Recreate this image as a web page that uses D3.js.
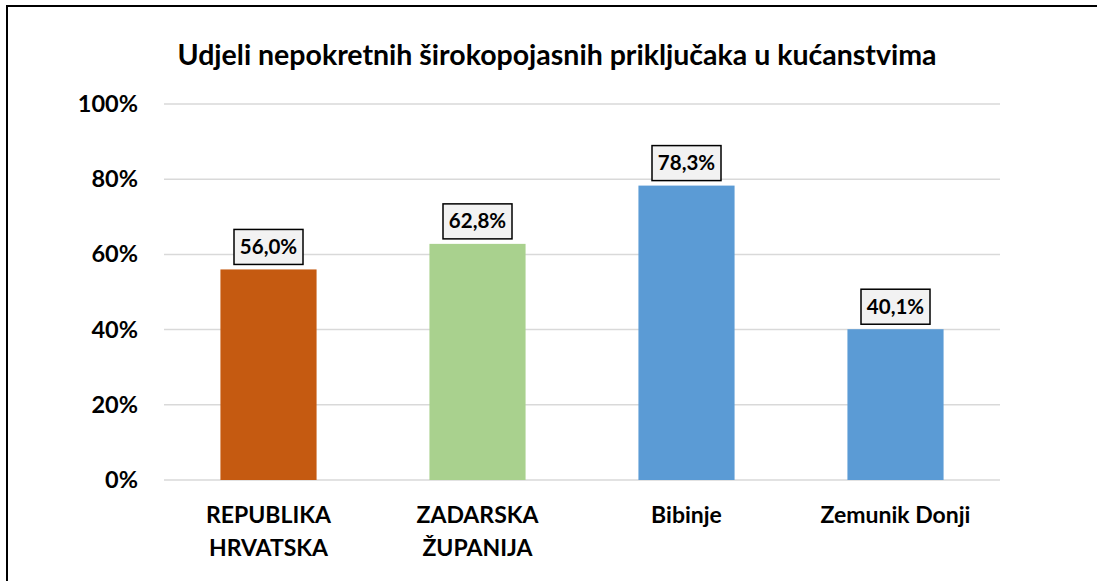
<!DOCTYPE html>
<html><head><meta charset="utf-8">
<script src="https://cdn.jsdelivr.net/npm/d3@7"></script>
<style>body{margin:0;background:#fff;} text{font-family:Lato,"Open Sans",sans-serif;font-weight:bold;}</style>
</head><body>
<svg id="c" width="1097" height="581"></svg>
<script>
const title = "Udjeli nepokretnih širokopojasnih priključaka u kućanstvima";
const categories = [["REPUBLIKA","HRVATSKA"],["ZADARSKA","ŽUPANIJA"],["Bibinje"],["Zemunik Donji"]];
const values = [56.0, 62.8, 78.3, 40.1];
const colors = ["#C55A11", "#A9D18E", "#5B9BD5", "#5B9BD5"];
const yTicks = [0, 20, 40, 60, 80, 100];

const svg = d3.select("#c");
svg.append("rect").attr("x",7).attr("y",6).attr("width",1200).attr("height",700)
  .attr("fill","#fff").attr("stroke","#000").attr("stroke-width",2);

const pL=164, pR=1000, pT=104, pB=480;
const x = d3.scaleBand().domain(d3.range(values.length)).range([pL,pR]).paddingInner(0.54).paddingOuter(0.27);
const y = d3.scaleLinear().domain([0,100]).range([pB,pT]);

svg.append("text").attr("x",557).attr("y",65).attr("text-anchor","middle")
  .attr("font-size",28.5).attr("fill","#000").text(title);

svg.append("g").selectAll("line").data(yTicks).join("line")
  .attr("x1",pL).attr("x2",pR).attr("y1",d=>y(d)).attr("y2",d=>y(d))
  .attr("stroke","#d9d9d9").attr("stroke-width",1.5);

const yAxis = d3.axisLeft(y).tickValues(yTicks).tickFormat(d=>d+"%").tickSize(0).tickPadding(26);
const ga = svg.append("g").attr("transform",`translate(${pL},0)`).call(yAxis);
ga.select(".domain").remove();
ga.selectAll("text").attr("font-size",23.5).attr("fill","#000").style("font-family","Lato,sans-serif").style("font-weight","bold");

svg.append("g").selectAll("rect").data(values).join("rect")
  .attr("x",(d,i)=>x(i)).attr("width",x.bandwidth())
  .attr("y",d=>y(d)).attr("height",d=>pB-y(d)).attr("fill",(d,i)=>colors[i]);

const fmt = v => v.toFixed(1).replace(".",",")+"%";
values.forEach((v,i)=>{
  const cx = x(i)+x.bandwidth()/2;
  const by = y(v)-5;
  const g = svg.append("g");
  g.append("rect").attr("x",cx-34.5).attr("y",by-35).attr("width",69).attr("height",35)
    .attr("fill","#f2f2f2").attr("stroke","#000").attr("stroke-width",1.5);
  g.append("text").attr("x",cx).attr("y",by-10.5).attr("text-anchor","middle")
    .attr("font-size",20.5).attr("fill","#000").text(fmt(v));
});

categories.forEach((lines,i)=>{
  const cx = x(i)+x.bandwidth()/2;
  lines.forEach((t,j)=>{
    svg.append("text").attr("x",cx).attr("y",523+j*33).attr("text-anchor","middle")
      .attr("font-size",23).attr("fill","#000").text(t);
  });
});
</script>
</body></html>
